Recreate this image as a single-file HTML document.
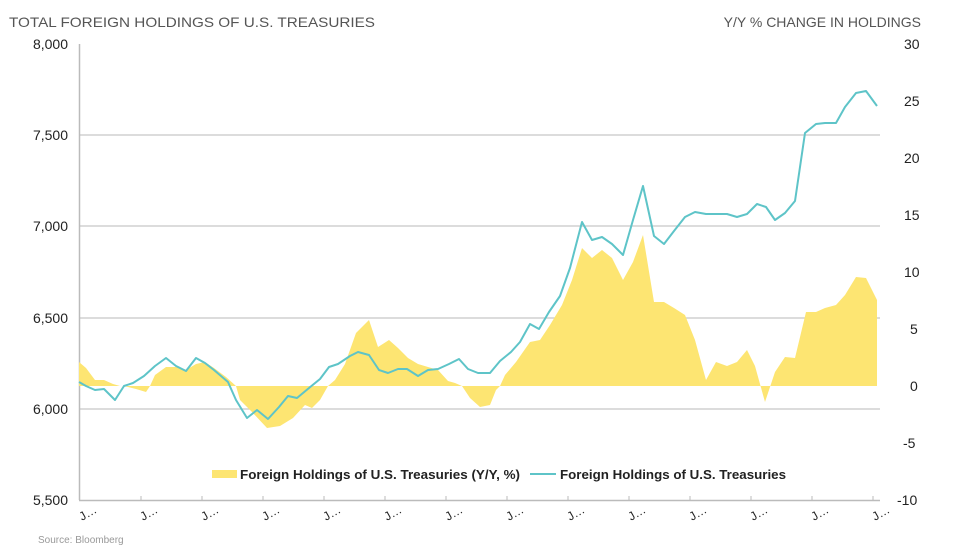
<!DOCTYPE html>
<html><head><style>
body{margin:0;background:#fff;font-family:"Liberation Sans",sans-serif;}
</style></head><body>
<svg width="955" height="554" xmlns="http://www.w3.org/2000/svg" font-family="Liberation Sans, sans-serif">
<rect width="955" height="554" fill="#fff"/>
<text x="9" y="27" font-size="14" fill="#555" textLength="366" lengthAdjust="spacingAndGlyphs">TOTAL FOREIGN HOLDINGS OF U.S. TREASURIES</text>
<text x="921" y="27" font-size="14" fill="#555" text-anchor="end">Y/Y % CHANGE IN HOLDINGS</text>
<g stroke="#c8c8c8" stroke-width="1.3">
<line x1="79" y1="135" x2="880" y2="135"/>
<line x1="79" y1="226" x2="880" y2="226"/>
<line x1="79" y1="318" x2="880" y2="318"/>
<line x1="79" y1="409" x2="880" y2="409"/>
</g>
<line x1="79.5" y1="44" x2="79.5" y2="500" stroke="#bbb" stroke-width="1.5"/>
<line x1="79" y1="500.5" x2="880" y2="500.5" stroke="#bbb" stroke-width="1.5"/>
<g font-size="14" fill="#222" text-anchor="end">
<text x="68" y="49">8,000</text><text x="68" y="140">7,500</text><text x="68" y="231">7,000</text>
<text x="68" y="323">6,500</text><text x="68" y="414">6,000</text><text x="68" y="505">5,500</text>
</g>
<g font-size="14" fill="#222" text-anchor="start">
<text x="904" y="49">30</text><text x="904" y="106">25</text><text x="904" y="163">20</text>
<text x="904" y="220">15</text><text x="904" y="277">10</text><text x="910" y="334">5</text>
<text x="910" y="391">0</text><text x="903" y="448">-5</text><text x="897" y="505">-10</text>
</g>
<g stroke="#bbb" stroke-width="1">
<line x1="141" y1="496" x2="141" y2="500"/><line x1="202" y1="496" x2="202" y2="500"/><line x1="263" y1="496" x2="263" y2="500"/><line x1="324" y1="496" x2="324" y2="500"/><line x1="385" y1="496" x2="385" y2="500"/><line x1="446" y1="496" x2="446" y2="500"/><line x1="507" y1="496" x2="507" y2="500"/><line x1="568" y1="496" x2="568" y2="500"/><line x1="629" y1="496" x2="629" y2="500"/><line x1="690" y1="496" x2="690" y2="500"/><line x1="751" y1="496" x2="751" y2="500"/><line x1="812" y1="496" x2="812" y2="500"/><line x1="873" y1="496" x2="873" y2="500"/>
</g>
<g font-size="12" fill="#222">
<text transform="translate(82,521) rotate(-30)">J…</text><text transform="translate(143,521) rotate(-30)">J…</text><text transform="translate(204,521) rotate(-30)">J…</text><text transform="translate(265,521) rotate(-30)">J…</text><text transform="translate(326,521) rotate(-30)">J…</text><text transform="translate(387,521) rotate(-30)">J…</text><text transform="translate(448,521) rotate(-30)">J…</text><text transform="translate(509,521) rotate(-30)">J…</text><text transform="translate(570,521) rotate(-30)">J…</text><text transform="translate(631,521) rotate(-30)">J…</text><text transform="translate(692,521) rotate(-30)">J…</text><text transform="translate(753,521) rotate(-30)">J…</text><text transform="translate(814,521) rotate(-30)">J…</text><text transform="translate(875,521) rotate(-30)">J…</text>
</g>
<polygon fill="#fde572" points="79,386 79,362 86,368 95,380 104,380 113,384 120,386 124,386 136,389 146,392 150,386 155,375 166,367 176,367 186,370 196,364 205,362 214,368 226,377 236,386 240,400 252,412 267,428 280,426 293,418 305,405 312,408 320,400 328,386 335,380 345,364 356,333 369,320 378,347 389,340 398,348 408,358 418,364 428,367 438,370 448,381 455,383 462,386 470,398 480,407 490,405 496,390 500,386 505,375 516,362 530,342 540,340 550,325 562,305 572,280 582,248 592,258 602,250 612,258 623,280 633,262 643,235 654,302 664,302 674,308 685,315 695,340 706,380 716,362 727,366 737,362 747,350 755,366 765,402 775,372 785,357 795,358 806,312 816,312 825,308 836,305 845,295 856,277 866,278 877,300 877,386"/>
<polyline fill="none" stroke="#5ec4c8" stroke-width="2" stroke-linejoin="round" points="79,382 86,386 95,390 104,389 115,400 124,386 133,383 144,376 155,366 166,358 176,366 186,371 196,358 205,363 214,370 228,382 236,400 247,418 257,410 268,419 279,407 288,396 297,398 309,388 320,379 329,367 338,364 350,356 358,352 369,355 379,370 388,373 398,369 407,369 418,376 428,370 438,369 449,364 459,359 468,369 478,373 490,373 500,361 511,352 520,342 530,324 539,329 549,312 560,296 570,268 582,222 592,240 602,237 612,244 623,255 633,220 643,186 654,236 664,244 674,231 685,217 695,212 706,214 716,214 727,214 737,217 747,214 757,204 766,207 775,220 785,213 795,201 805,133 816,124 825,123 836,123 845,107 856,93 866,91 877,106"/>
<rect x="212" y="470" width="25" height="8" fill="#fde572"/>
<text x="240" y="479" font-size="13" font-weight="bold" fill="#222" textLength="280" lengthAdjust="spacingAndGlyphs">Foreign Holdings of U.S. Treasuries (Y/Y, %)</text>
<line x1="530" y1="474" x2="556" y2="474" stroke="#5ec4c8" stroke-width="2"/>
<text x="560" y="479" font-size="13" font-weight="bold" fill="#222" textLength="226" lengthAdjust="spacingAndGlyphs">Foreign Holdings of U.S. Treasuries</text>
<text x="38" y="543" font-size="10" fill="#999">Source: Bloomberg</text>
</svg>
</body></html>
